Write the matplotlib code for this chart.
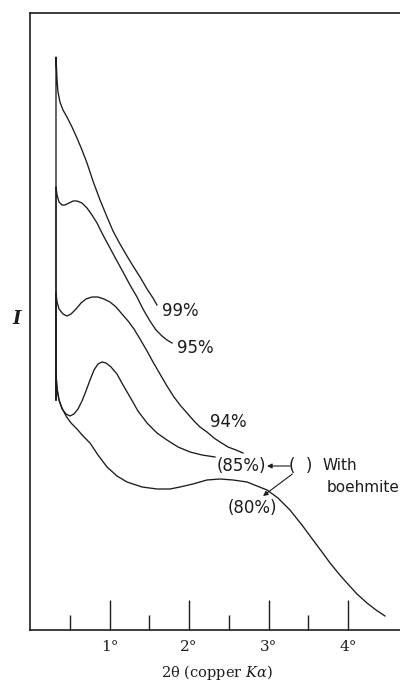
import matplotlib
matplotlib.use("Agg")
import matplotlib.pyplot as plt

# ---- data (2theta in degrees, intensity in arbitrary units) ----
x99 = [0.327, 0.327, 0.340, 0.352, 0.377, 0.415, 0.465, 0.528, 0.591, 0.654, 0.717,
       0.792, 0.881, 0.969, 1.044, 1.132, 1.220, 1.296, 1.384, 1.472, 1.547, 1.597]
i99 = [2.30, 5.73, 5.50, 5.38, 5.28, 5.20, 5.13, 5.03, 4.92, 4.80, 4.67,
       4.49, 4.30, 4.13, 3.99, 3.86, 3.74, 3.64, 3.53, 3.41, 3.32, 3.25]

x95 = [0.327, 0.327, 0.340, 0.365, 0.403, 0.440, 0.491, 0.541, 0.591, 0.654, 0.717,
       0.780, 0.843, 0.918, 1.006, 1.094, 1.170, 1.258, 1.346, 1.421, 1.509, 1.585,
       1.660, 1.723, 1.786]
i95 = [2.30, 4.43, 4.35, 4.28, 4.25, 4.25, 4.27, 4.29, 4.29, 4.27, 4.22,
       4.15, 4.07, 3.95, 3.82, 3.69, 3.58, 3.45, 3.33, 3.21, 3.09, 3.00,
       2.94, 2.90, 2.87]

x94 = [0.327, 0.327, 0.340, 0.365, 0.415, 0.465, 0.516, 0.579, 0.642, 0.704, 0.780,
       0.855, 0.931, 1.006, 1.082, 1.157, 1.233, 1.308, 1.384, 1.472, 1.547, 1.635,
       1.723, 1.811, 1.887, 1.975, 2.063, 2.138, 2.226, 2.314, 2.390, 2.491, 2.591, 2.679]
i94 = [2.30, 3.37, 3.28, 3.21, 3.16, 3.14, 3.16, 3.21, 3.27, 3.31, 3.33,
       3.33, 3.31, 3.28, 3.23, 3.16, 3.09, 3.01, 2.91, 2.79, 2.68, 2.56,
       2.44, 2.33, 2.25, 2.17, 2.09, 2.03, 1.98, 1.92, 1.88, 1.83, 1.80, 1.77]

x85 = [0.327, 0.340, 0.365, 0.403, 0.453, 0.503, 0.553, 0.604, 0.654, 0.704, 0.755,
       0.805, 0.855, 0.906, 0.956, 1.019, 1.094, 1.170, 1.258, 1.358, 1.472, 1.597,
       1.723, 1.862, 2.013, 2.164, 2.327]
i85 = [2.58, 2.42, 2.30, 2.21, 2.16, 2.14, 2.16, 2.21, 2.29, 2.39, 2.50,
       2.60, 2.66, 2.68, 2.67, 2.63, 2.56, 2.45, 2.33, 2.19, 2.07, 1.97,
       1.90, 1.83, 1.78, 1.75, 1.73]

x80 = [0.327, 0.340, 0.365, 0.403, 0.453, 0.516, 0.591, 0.667, 0.755, 0.855, 0.969,
       1.094, 1.220, 1.409, 1.597, 1.761, 1.887, 2.050, 2.226, 2.390, 2.553, 2.730,
       2.855, 2.981, 3.119, 3.270, 3.421, 3.560, 3.673, 3.774, 3.887, 3.987, 4.113,
       4.239, 4.352, 4.465]
i80 = [2.55, 2.40, 2.30, 2.22, 2.14, 2.07, 2.01, 1.94, 1.87, 1.75, 1.63,
       1.54, 1.48, 1.43, 1.41, 1.41, 1.43, 1.46, 1.50, 1.51, 1.50, 1.48,
       1.44, 1.40, 1.32, 1.20, 1.05, 0.90, 0.78, 0.67, 0.56, 0.47, 0.36,
       0.27, 0.20, 0.14]

series = [(x99, i99), (x95, i95), (x94, i94), (x85, i85), (x80, i80)]

curve_labels = ["99%", "95%", "94%", "(85%)", "(80%)"]
label_pos = [(1.887, 3.19), (2.075, 2.82), (2.491, 2.08), (2.654, 1.64), (2.792, 1.22)]

major_ticks = [1, 2, 3, 4]
major_labels = ["1°", "2°", "3°", "4°"]
minor_ticks = [0.5, 1.5, 2.5, 3.5]

ink = "#1c1c1c"

fig = plt.figure(figsize=(4.0, 6.81), dpi=100)
ax = fig.add_axes([0.075, 0.0749, 0.925, 0.906])
ax.set_xlim(0, 4.654)
ax.set_ylim(0, 6.17)

for xs, ys in series:
    ax.plot(xs, ys, color=ink, lw=0.95, solid_joinstyle="round")

for txt, (lx, ly) in zip(curve_labels, label_pos):
    ax.text(lx, ly, txt, ha="center", va="center", fontsize=12,
            family="DejaVu Sans", color=ink)

# boehmite note
ax.text(3.41, 1.64, "(  )", ha="center", va="center", fontsize=12,
        family="DejaVu Sans", color=ink)
ax.text(3.685, 1.64, "With", ha="left", va="center", fontsize=11,
        family="DejaVu Sans", color=ink)
ax.text(3.735, 1.42, "boehmite", ha="left", va="center", fontsize=11,
        family="DejaVu Sans", color=ink)
ax.annotate("", xy=(2.981, 1.64), xytext=(3.27, 1.64),
            arrowprops=dict(arrowstyle="-|>", color=ink, lw=0.8,
                            mutation_scale=7, shrinkA=0, shrinkB=0))
ax.annotate("", xy=(2.931, 1.34), xytext=(3.30, 1.56),
            arrowprops=dict(arrowstyle="-|>", color=ink, lw=0.8,
                            mutation_scale=7, shrinkA=0, shrinkB=0))

# axes styling
for s in ["left", "bottom", "top"]:
    ax.spines[s].set_color(ink)
    ax.spines[s].set_linewidth(1.2)
ax.spines["right"].set_visible(False)

ax.set_yticks([])
ax.set_xticks(major_ticks)
ax.set_xticklabels(major_labels, family="DejaVu Serif", fontsize=11, color=ink)
ax.set_xticks(minor_ticks, minor=True)
ax.tick_params(axis="x", which="major", direction="in", length=21.5, width=1.0,
               color=ink, pad=7)
ax.tick_params(axis="x", which="minor", direction="in", length=10.8, width=1.0,
               color=ink)

plt.rcParams["mathtext.fontset"] = "dejavuserif"
fig.text(217 / 400, 1 - 673 / 681, r"2θ (copper $K\alpha$)", ha="center",
         va="center", fontsize=10.5, family="DejaVu Serif", color=ink)
fig.text(17 / 400, 1 - 319 / 681, "I", ha="center", va="center", fontsize=13,
         family="DejaVu Serif", style="italic", weight="bold", color=ink)

fig.savefig("out.png", dpi=100)
